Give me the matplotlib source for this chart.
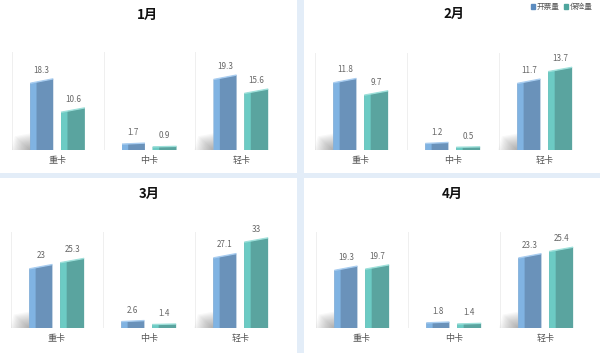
import matplotlib.pyplot as plt
from matplotlib.patches import Rectangle, Patch

plt.rcParams['font.family'] = ['Noto Sans CJK SC', 'DejaVu Sans']

# 数据
categories = ['重卡', '中卡', '轻卡']
months = ['1月', '2月', '3月', '4月']
kaipiao = [[18.3, 1.7, 19.3], [11.8, 1.2, 11.7], [23, 2.6, 27.1], [19.3, 1.8, 23.3]]
baoxian = [[10.6, 0.9, 15.6], [9.7, 0.5, 13.7], [25.3, 1.4, 33], [19.7, 1.4, 25.4]]
ymax = [26, 16.5, 36, 31]

W, H = 600, 353
fig = plt.figure(figsize=(6, 3.53), dpi=100, facecolor='#e3edf8')

# 白色面板 (像素: x0, y0, x1, y1，y从顶部算)
panels = [(0, 0, 297, 173), (304, 0, 600, 173), (0, 178, 297, 353), (304, 178, 600, 353)]
plots = [(12, 52, 287, 150), (315, 53, 591, 150), (11, 232, 287, 328), (316, 232, 592, 328)]
titles = [(147, 15), (454, 14), (149, 194), (452, 194)]

for x0, y0, x1, y1 in panels:
    fig.patches.append(Rectangle((x0 / W, 1 - y1 / H), (x1 - x0) / W, (y1 - y0) / H,
                                 transform=fig.transFigure, facecolor='white',
                                 edgecolor='none', zorder=-5))

blue = ('#6a92ba', '#80b3e2', '#a9cdf0')
green = ('#5aa49f', '#6ccbc4', '#9ee0da')


def draw_bar(ax, xc, v, w, cols, top, shadow):
    xl, xr = xc - w / 2, xc + w / 2
    k_h = min(1.0, v / (0.3 * top))
    rise = top * 0.045 * k_h
    s = w * 0.27
    # 阴影
    if shadow and k_h > 0.5:
        d = 0.21
        n = 14
        for k in range(n):
            f = 1 - k / n
            ax.fill([xl, xl - d * f, xl - d * f * 0.8, xl],
                    [0, 0, top * 0.14 * f, top * 0.17 * f],
                    color='#606060', alpha=0.045, lw=0, zorder=1)
    ax.fill([xl, xr, xr, xl], [0, 0, v + rise / 2, v - rise / 2],
            color=cols[0], lw=0, zorder=3)
    ax.fill([xl, xl + s, xl + s, xl], [0, 0, v - rise / 2 + rise * s / w, v - rise / 2],
            color=cols[1], lw=0, zorder=4)
    ax.plot([xl, xr], [v - rise / 2, v + rise / 2], color=cols[2], lw=1.0,
            zorder=5, solid_capstyle='butt')
    ax.text(xc, v + top * 0.065, f'{v:g}', ha='center', va='bottom',
            fontsize=5.8, color='#666666', zorder=6)


for i in range(4):
    px0, py0, px1, py1 = plots[i]
    ax = fig.add_axes([px0 / W, 1 - py1 / H, (px1 - px0) / W, (py1 - py0) / H])
    ax.set_xlim(-0.5, 2.5)
    ax.set_ylim(0, ymax[i])
    ax.axis('off')
    for b in [-0.5, 0.5, 1.5, 2.5]:
        ax.axvline(b, color='#efefef', lw=0.7, zorder=0)
    for j in range(3):
        draw_bar(ax, j - 0.175, kaipiao[i][j], 0.25, blue, ymax[i], True)
        draw_bar(ax, j + 0.165, baoxian[i][j], 0.26, green, ymax[i], False)
        ax.text(j, -ymax[i] * 0.06, categories[j], ha='center', va='top',
                fontsize=6.5, color='#555555')
    tx, ty = titles[i]
    fig.text(tx / W, 1 - ty / H, months[i], ha='center', va='center',
             fontsize=9.5, fontweight='bold', color='#111111')

handles = [Patch(color='#5b8bbf', label='开票量'), Patch(color='#4ea59d', label='保险量')]
fig.legend(handles=handles, loc='upper right', bbox_to_anchor=(1.0, 1.01), ncol=2,
           frameon=False, fontsize=5.5, handlelength=0.55, handleheight=0.55,
           handletextpad=0.3, columnspacing=0.5, labelcolor='#555555')

fig.savefig('out.png', dpi=100, facecolor=fig.get_facecolor())
